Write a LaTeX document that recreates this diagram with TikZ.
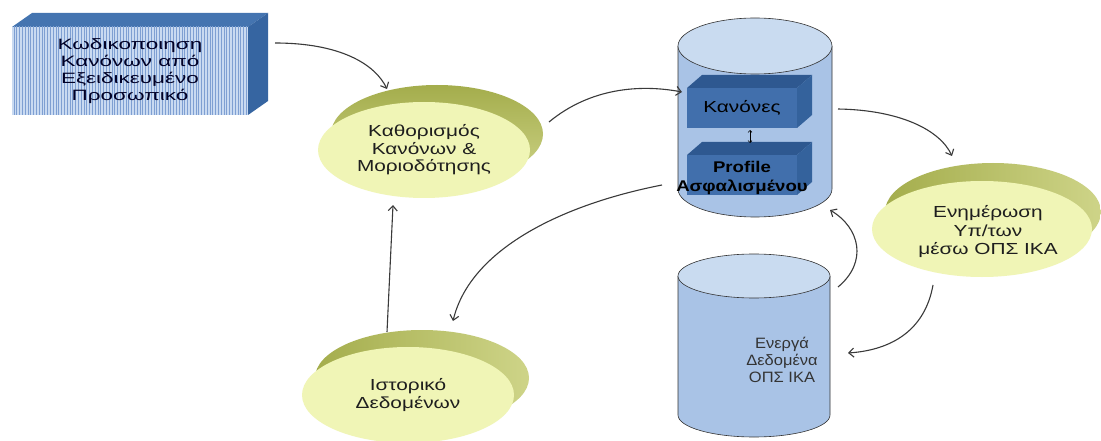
\documentclass[tikz,border=0pt]{standalone}
\usepackage{fontspec}
\setmainfont{Liberation Sans}
\newfontfamily\boxfont[FakeStretch=1.5]{Liberation Sans}
\newfontfamily\ellfont[FakeStretch=1.3]{Liberation Sans}
\newfontfamily\proffont[FakeStretch=1.2]{Liberation Sans}
\newfontfamily\cylfont[FakeStretch=1.1]{Liberation Sans}
\usetikzlibrary{arrows.meta,patterns.meta,shapes.geometric}
\definecolor{boxfront}{HTML}{C9DAF1}
\definecolor{boxstripe}{HTML}{7E9FD2}
\definecolor{boxtop}{HTML}{4474B0}
\definecolor{boxside}{HTML}{3665A1}
\definecolor{cylbody}{HTML}{A9C3E6}
\definecolor{cyltop}{HTML}{C9DBF0}
\definecolor{ibfront}{HTML}{416FAC}
\definecolor{ibtop}{HTML}{2E5890}
\definecolor{ibside}{HTML}{34629C}
\definecolor{ellfill}{HTML}{F0F5B6}
\definecolor{olivedark}{HTML}{A4AD4C}
\definecolor{olivelight}{HTML}{CED488}
\definecolor{arrowc}{HTML}{3A3A3A}
\definecolor{txt}{HTML}{1E1E1E}
\tikzset{
  conn/.style={draw=arrowc, line width=1.1pt, -{Straight Barb[length=5pt,width=9pt]}},
  ellnode/.style={ellipse, fill=ellfill, inner sep=0pt, minimum width=212pt, minimum height=96pt,
     align=center, text=txt, font=\ellfont\fontsize{16}{17.5}\selectfont},
  cylshape/.style={fill=cylbody, draw=black!80, line width=0.6pt},
  cyltopshape/.style={fill=cyltop, draw=black!80, line width=0.6pt},
  ibox/.style={fill=ibfront, inner sep=0pt, minimum width=110pt, minimum height=40pt, align=center,
     text=black, font=\ellfont\fontsize{16}{18}\selectfont},
}
\begin{document}
\begin{tikzpicture}[x=1pt,y=-1pt]
\path[use as bounding box] (0,0) rectangle (1101,441);
\fill[white] (0,0) rectangle (1101,441);

% ---------- 3D box top-left ----------
\fill[boxtop] (12,27) -- (32,13) -- (268,13) -- (248,27) -- cycle;
\fill[boxside] (248,27) -- (268,13) -- (268,101) -- (248,115) -- cycle;
\node[preaction={fill=boxfront}, pattern={Lines[angle=90,distance=2.8pt,line width=0.9pt]},
      pattern color=boxstripe, minimum width=236pt, minimum height=88pt, inner sep=0pt,
      align=center, text=black!85!blue, font=\boxfont\fontsize{15}{17}\selectfont]
  (kod) at (130,71) {Κωδικοποιηση\\Κανόνων από\\Εξειδικευμένο\\Προσωπικό};

% ---------- ellipses ----------
\shade[left color=olivedark, right color=olivelight, shading angle=0] (437,134) ellipse [x radius=106, y radius=49];
\node[ellnode] (kath) at (424,150) {Καθορισμός\\Κανόνων \&\\Μοριοδότησης};

\shade[left color=olivedark, right color=olivelight] (993,212) ellipse [x radius=108, y radius=49];
\node[ellnode, minimum width=220pt] (enim) at (982,229) {};
\node[align=center, text=txt, font=\ellfont\fontsize{16}{18.5}\selectfont] (enimt) at (988,232) {Ενημέρωση\\Υπ/των\\μέσω ΟΠΣ ΙΚΑ};

\shade[left color=olivedark, right color=olivelight] (422,378) ellipse [x radius=107, y radius=48];
\node[ellnode] (ist) at (408,395) {Ιστορικό\\Δεδομένων};

% ---------- top cylinder ----------
\filldraw[cylshape] (678,46) -- (678,189) arc[start angle=180,end angle=360,x radius=77pt,y radius=28pt] -- (832,46);
\filldraw[cyltopshape] (755,46) ellipse [x radius=77, y radius=28];

% inner box Κανόνες
\fill[ibtop] (687,88) -- (702,75) -- (812,75) -- (797,88) -- cycle;
\fill[ibside] (797,88) -- (812,75) -- (812,115) -- (797,128) -- cycle;
\node[ibox] (kan) at (742,108) {Κανόνες};
% inner box Profile
\fill[ibtop] (687,155) -- (702,142) -- (812,142) -- (797,155) -- cycle;
\fill[ibside] (797,155) -- (812,142) -- (812,182) -- (797,195) -- cycle;
\node[ibox] (profbox) at (742,175) {};
\node[align=center, text=black, font=\proffont\bfseries\fontsize{15.5}{19}\selectfont] (prof) at (742,178) {Profile\\Ασφαλισμένου};
\coordinate (s1) at (750,130);
\coordinate (s2) at (750,143);
\draw[black, line width=0.6pt, {Straight Barb[length=2pt,width=4pt]}-{Straight Barb[length=2pt,width=4pt]}] (s1) -- (s2);

% ---------- bottom cylinder ----------
\filldraw[cylshape] (678,276) -- (678,415) arc[start angle=180,end angle=360,x radius=76pt,y radius=22pt] -- (830,276);
\filldraw[cyltopshape] (754,276) ellipse [x radius=76, y radius=22];
\node[align=center, text=black!80, font=\cylfont\fontsize{15}{17}\selectfont] (energ) at (782,360) {Ενεργά\\Δεδομένα\\ΟΠΣ ΙΚΑ};

% ---------- connectors ----------
\coordinate (a1) at (275,43);  \coordinate (a2) at (387,89);
\coordinate (b1) at (549,122); \coordinate (b2) at (682,92);
\coordinate (c1) at (838,109); \coordinate (c2) at (952,156);
\coordinate (d1) at (933,285); \coordinate (d2) at (848,353);
\coordinate (e1) at (838,287); \coordinate (e2) at (830,210);
\coordinate (f1) at (662,185); \coordinate (f2) at (453,321);
\coordinate (g1) at (387,332); \coordinate (g2) at (393,205);

\draw[conn] (a1) .. controls (340,43) and (375,64) .. (a2);
\draw[conn] (b1) .. controls (590,88) and (640,84) .. (b2);
\draw[conn] (c1) .. controls (900,110) and (940,130) .. (c2);
\draw[conn] (d1) .. controls (925,330) and (892,350) .. (d2);
\draw[conn] (e1) .. controls (868,262) and (860,228) .. (e2);
\draw[conn] (f1) .. controls (560,205) and (470,250) .. (f2);
\draw[conn] (g1) -- (g2);
\end{tikzpicture}
\end{document}
